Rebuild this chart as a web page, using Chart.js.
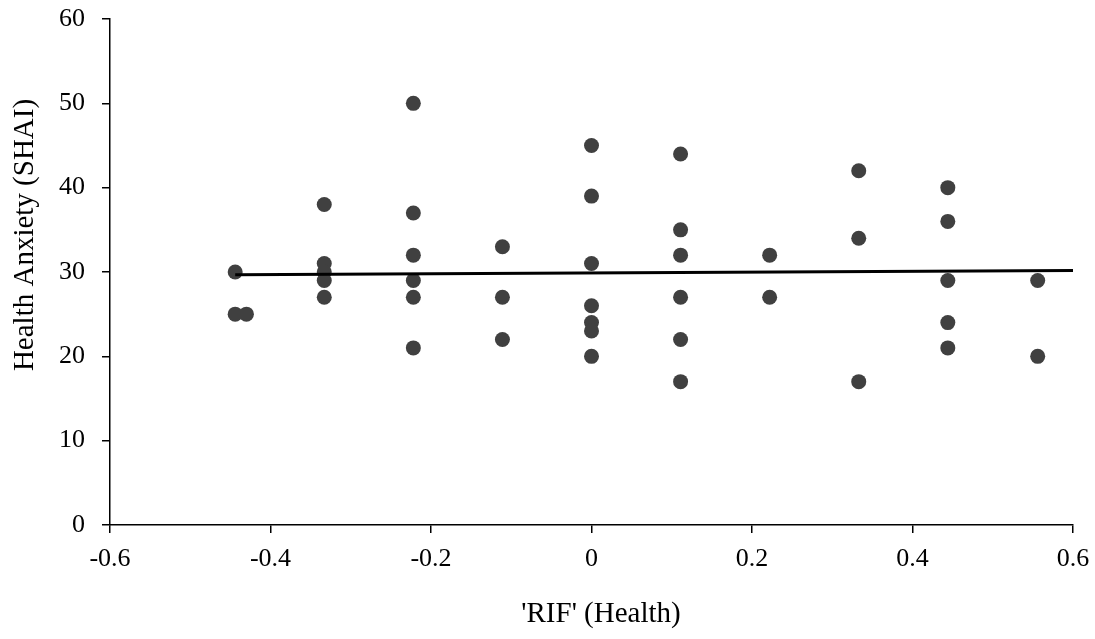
<!DOCTYPE html>
<html>
<head>
<meta charset="utf-8">
<script src="https://cdn.jsdelivr.net/npm/chart.js@4/dist/chart.umd.min.js"></script>
<style>
  html, body { margin: 0; padding: 0; background: #ffffff; }
  #wrap { width: 1095px; height: 639px; position: relative; }
</style>
</head>
<body>
<div id="wrap"><canvas id="c" width="1095" height="639"></canvas></div>
<script>
// Data
const rifValues = [
  -0.444, -0.444, -0.43,
  -0.333, -0.333, -0.333, -0.333, -0.333,
  -0.222, -0.222, -0.222, -0.222, -0.222, -0.222,
  -0.111, -0.111, -0.111,
  0, 0, 0, 0, 0, 0, 0,
  0.111, 0.111, 0.111, 0.111, 0.111, 0.111,
  0.222, 0.222,
  0.333, 0.333, 0.333,
  0.444, 0.444, 0.444, 0.444, 0.444,
  0.556, 0.556
];
const shaiValues = [
  30, 25, 25,
  38, 31, 30, 29, 27,
  50, 37, 32, 29, 27, 21,
  33, 27, 22,
  45, 39, 31, 26, 24, 23, 20,
  44, 35, 32, 27, 22, 17,
  32, 27,
  42, 34, 17,
  40, 36, 29, 24, 21,
  29, 20
];
const trendX = [-0.444, 0.6];
const trendY = [29.66, 30.17];
const xTickValues = [-0.6, -0.4, -0.2, 0, 0.2, 0.4, 0.6];
const yTickValues = [0, 10, 20, 30, 40, 50, 60];
const xTitle = "'RIF' (Health)";
const yTitle = "Health Anxiety (SHAI)";

const FONT = '"Liberation Serif", "Times New Roman", serif';

const scatterPoints = rifValues.map((x, i) => ({ x: x, y: shaiValues[i] }));
const trendPoints = trendX.map((x, i) => ({ x: x, y: trendY[i] }));

const titlesPlugin = {
  id: 'axisTitles',
  afterDraw(chart) {
    const ctx = chart.ctx;
    ctx.save();
    ctx.fillStyle = '#000000';
    ctx.font = '29px ' + FONT;
    ctx.textAlign = 'center';
    ctx.textBaseline = 'middle';
    // x axis title
    ctx.fillText(xTitle, 601, 614);
    // y axis title
    ctx.translate(25, 235);
    ctx.rotate(-Math.PI / 2);
    ctx.fillText(yTitle, 0, 0);
    ctx.restore();
  }
};

function zeroPad(scale) {
  scale.paddingLeft = 0;
  scale.paddingRight = 0;
  scale.paddingTop = 0;
  scale.paddingBottom = 0;
}

new Chart(document.getElementById('c'), {
  type: 'scatter',
  data: {
    datasets: [
      {
        type: 'line',
        label: 'Trend',
        data: trendPoints,
        borderColor: '#000000',
        borderWidth: 3,
        pointRadius: 0,
        fill: false,
        order: 0
      },
      {
        type: 'scatter',
        label: 'SHAI',
        data: scatterPoints,
        backgroundColor: '#404040',
        borderColor: '#404040',
        borderWidth: 0,
        pointRadius: 7.5,
        order: 1
      }
    ]
  },
  options: {
    responsive: false,
    animation: false,
    layout: { padding: { left: 0, right: 22, top: 19, bottom: 0 } },
    plugins: {
      legend: { display: false },
      tooltip: { enabled: false }
    },
    scales: {
      x: {
        type: 'linear',
        min: -0.6,
        max: 0.6,
        afterBuildTicks(scale) { scale.ticks = xTickValues.map(v => ({ value: v })); },
        afterFit(scale) { scale.height = 114; zeroPad(scale); },
        grid: { drawOnChartArea: false, drawTicks: true, tickLength: 8, color: '#000000', lineWidth: 1.5 },
        border: { display: true, color: '#000000', width: 1.5 },
        ticks: {
          padding: 11,
          color: '#000000',
          font: { family: FONT, size: 26 },
          maxRotation: 0,
          autoSkip: false,
          callback: (v) => { const r = Math.round(v * 10) / 10; return r === 0 ? '0' : r.toFixed(1); }
        },
        title: { display: false, text: xTitle }
      },
      y: {
        type: 'linear',
        min: 0,
        max: 60,
        afterBuildTicks(scale) { scale.ticks = yTickValues.map(v => ({ value: v })); },
        afterFit(scale) { scale.width = 110; zeroPad(scale); },
        grid: { drawOnChartArea: false, drawTicks: true, tickLength: 8, color: '#000000', lineWidth: 1.5 },
        border: { display: true, color: '#000000', width: 1.5 },
        ticks: {
          padding: 17,
          color: '#000000',
          font: { family: FONT, size: 26 },
          autoSkip: false,
          callback: (v) => String(Math.round(v))
        },
        title: { display: false, text: yTitle }
      }
    }
  },
  plugins: [titlesPlugin]
});
</script>
</body>
</html>
